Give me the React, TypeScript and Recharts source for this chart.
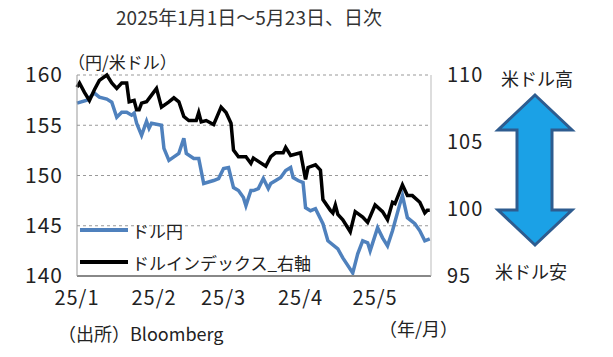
import React from "react";
import { LineChart, Line, XAxis, YAxis, CartesianGrid, Legend } from "recharts";

// days counted from 2025/1/1
const jpyDays = [0, 4, 7, 9, 12, 14, 16, 18, 20, 22, 23, 24, 26, 28, 29, 30, 34, 35, 37, 41, 43, 44, 47, 49, 51, 55, 57, 59, 61, 63, 65, 67, 68, 70, 71, 73, 75, 77, 78, 80, 82, 84, 86, 87, 89, 91, 92, 94, 96, 97, 99, 101, 105, 107, 111, 113, 115, 117, 118, 121, 123, 125, 127, 130, 131, 133, 136, 138, 140, 142];
const jpyValues = [157.2, 157.5, 158.2, 157.8, 157.6, 157.3, 155.8, 156.3, 156.3, 156.0, 156.2, 155.2, 154.0, 155.4, 154.7, 155.2, 155.0, 152.7, 151.5, 152.2, 153.7, 152.2, 151.7, 151.7, 149.2, 149.5, 149.7, 150.7, 150.8, 148.8, 148.5, 147.8, 147.0, 148.5, 148.5, 148.7, 149.7, 148.7, 149.2, 149.5, 149.8, 150.5, 150.8, 149.8, 149.5, 149.3, 146.8, 146.5, 146.7, 146.2, 145.2, 143.5, 142.7, 141.8, 140.3, 142.2, 143.5, 143.3, 142.5, 144.8, 143.8, 143.0, 144.5, 147.2, 148.0, 145.8, 145.2, 144.5, 143.5, 143.7];

const dxyDays = [0, 1, 3, 5, 7, 9, 12, 14, 16, 18, 20, 21, 23, 24, 25, 26, 28, 30, 32, 34, 37, 39, 41, 43, 45, 48, 49, 50, 52, 55, 58, 60, 62, 63, 65, 68, 70, 71, 76, 78, 80, 83, 84, 86, 90, 92, 93, 96, 98, 99, 102, 103, 104, 105, 107, 110, 112, 115, 117, 120, 123, 125, 127, 128, 131, 133, 135, 138, 140, 141, 142];
const dxyValues = [109.1, 109.4, 108.7, 108.1, 108.9, 109.6, 110.0, 109.4, 109.0, 109.4, 109.4, 108.0, 108.1, 107.4, 107.4, 107.9, 108.0, 108.5, 109.0, 107.6, 108.0, 108.3, 108.0, 106.9, 106.6, 106.6, 107.2, 106.5, 106.6, 106.3, 107.6, 107.2, 106.4, 104.4, 103.9, 103.9, 103.4, 103.8, 103.2, 103.9, 104.2, 104.2, 104.6, 104.0, 104.2, 102.2, 103.1, 103.3, 102.9, 100.7, 99.9, 99.7, 100.3, 99.6, 99.2, 98.3, 99.8, 99.4, 99.0, 100.3, 99.8, 99.2, 100.5, 100.4, 101.8, 101.0, 101.0, 100.5, 99.7, 99.9, 99.9];

const monthTicks = [0, 31, 59, 90, 120];
const monthLabels = ["25/1", "25/2", "25/3", "25/4", "25/5"];
const leftTicks = [140, 145, 150, 155, 160];
const rightTicks = [95, 100, 105, 110];

const jpyData = jpyDays.map((d, i) => ({ day: d, jpy: jpyValues[i] }));
const dxyData = dxyDays.map((d, i) => ({ day: d, dxy: dxyValues[i] }));

const FONT = '"Noto Sans CJK JP", "Noto Sans", sans-serif';
const TEXT = "#222";

function LegendBox() {
  const rows = [
    { label: "ドル円", color: "#4f81bd" },
    { label: "ドルインデックス_右軸", color: "#000" },
  ];
  return (
    <div>
      {rows.map((r) => (
        <div key={r.label} style={{ display: "flex", alignItems: "center", height: 32 }}>
          <div style={{ width: 48, height: 4, background: r.color, marginRight: 4 }} />
          <span style={{ fontSize: 17, color: TEXT, fontFamily: FONT }}>{r.label}</span>
        </div>
      ))}
    </div>
  );
}

export default function App() {
  return (
    <div style={{ position: "absolute", left: 0, top: 0, width: 613, height: 357, background: "#fff", fontFamily: FONT }}>
      <div style={{ position: "absolute", left: 0, width: 498, top: 3, textAlign: "center", fontSize: 19, color: "#333" }}>
        2025年1月1日～5月23日、日次
      </div>
      <div style={{ position: "absolute", left: 68, top: 49, fontSize: 17, color: TEXT }}>（円/米ドル）</div>

      <LineChart width={613} height={357} margin={{ top: 75, right: 122, left: 17, bottom: 51 }}>
        <CartesianGrid yAxisId="left" vertical={false} strokeDasharray="3 3" stroke="#999" />
        <XAxis
          dataKey="day"
          type="number"
          domain={[0, 142.5]}
          ticks={monthTicks}
          tickFormatter={(v) => monthLabels[monthTicks.indexOf(v)]}
          tickLine={false}
          axisLine={{ stroke: "#888", strokeWidth: 2 }}
          tickMargin={9}
          height={30}
          tick={{ fontSize: 20, fill: TEXT, letterSpacing: 1 }}
          allowDuplicatedCategory={false}
        />
        <YAxis
          yAxisId="left"
          domain={[140, 160]}
          ticks={leftTicks}
          tickLine={false}
          axisLine={{ stroke: "#999" }}
          tickMargin={8}
          width={60}
          tick={{ fontSize: 21, fill: TEXT, letterSpacing: 1 }}
        />
        <YAxis
          yAxisId="right"
          orientation="right"
          domain={[95, 110]}
          ticks={rightTicks}
          tickLine={false}
          axisLine={{ stroke: "#bbb" }}
          tickMargin={10}
          width={60}
          tick={{ fontSize: 20, fill: TEXT, textAnchor: "start", letterSpacing: 1 }}
        />
        <Line
          yAxisId="left"
          data={jpyData}
          dataKey="jpy"
          type="linear"
          stroke="#4f81bd"
          strokeWidth={3.5}
          dot={false}
          isAnimationActive={false}
        />
        <Line
          yAxisId="right"
          data={dxyData}
          dataKey="dxy"
          type="linear"
          stroke="#000"
          strokeWidth={3.5}
          dot={false}
          isAnimationActive={false}
        />
        <Legend
          layout="horizontal"
          verticalAlign="middle"
          align="center"
          content={() => <LegendBox />}
          wrapperStyle={{ position: "absolute", left: 80, top: 214, width: 260, height: 64 }}
        />
      </LineChart>

      <svg style={{ position: "absolute", left: 0, top: 0 }} width={613} height={357} pointerEvents="none">
        <polygon
          points="535,95 572,130 552,130 552,210 572,210 535,245 498,210 517,210 517,130 498,130"
          fill="#1ba1e6"
          stroke="#2e5c8f"
          strokeWidth={3}
          strokeLinejoin="miter"
        />
      </svg>
      <div style={{ position: "absolute", left: 501, top: 65, fontSize: 18, color: TEXT }}>米ドル高</div>
      <div style={{ position: "absolute", left: 495, top: 258, fontSize: 18, color: TEXT }}>米ドル安</div>
      <div style={{ position: "absolute", left: 58, top: 320, fontSize: 18, color: TEXT }}>（出所）Bloomberg</div>
      <div style={{ position: "absolute", left: 379, top: 315, fontSize: 18, color: TEXT }}>（年/月）</div>
    </div>
  );
}
